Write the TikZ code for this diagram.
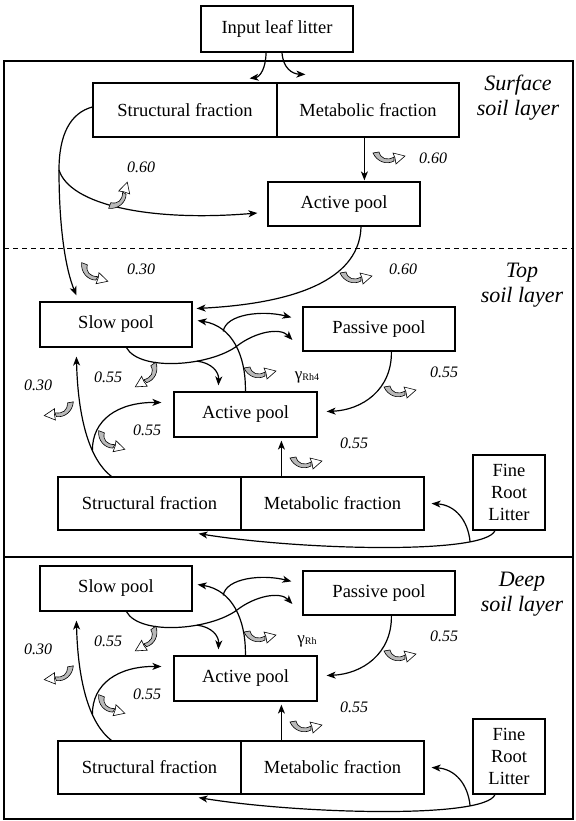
\documentclass[tikz,border=0pt]{standalone}
\usepackage{fontspec}
\setmainfont{Liberation Serif}
\usetikzlibrary{arrows.meta,calc}
\tikzset{
  box/.style={draw, line width=1.2pt, inner sep=0pt, align=center, font=\fontsize{18.5}{22}\selectfont},
  conn/.style={line width=1.2pt, -{Stealth[length=9pt,width=7pt,inset=2.5pt]}},
  num/.style={inner sep=0pt, font=\fontsize{16}{18}\selectfont\itshape},
  layerlabel/.style={inner sep=0pt, align=center, font=\fontsize{22}{25}\selectfont\itshape},
  resp/.pic={
    \filldraw[fill=gray!55, line width=0.6pt] (-16,-5) .. controls (-12,4) and (-2,7) .. (5,3)
      -- (5,-1) .. controls (-2,3) and (-8,1) .. (-10,-6) -- cycle;
    \filldraw[fill=white, line width=0.6pt] (7,6) -- (16,-2) -- (4,-5) -- (6,0) -- cycle;
  }
}
\newcommand{\soillayer}[3]{%
  \node[box, minimum width=152pt, minimum height=45pt] (#1S) at (116,{324.5+#2}) {Slow pool};
  \node[box, minimum width=152pt, minimum height=44pt] (#1P) at (379,{329+#2}) {Passive pool};
  \node[box, minimum width=143pt, minimum height=45pt] (#1A) at (245.5,{414.5+#2}) {Active pool};
  \node[box, minimum width=183pt, minimum height=53pt] (#1T) at (149.5,{503.5+#2}) {Structural fraction};
  \node[box, minimum width=183pt, minimum height=53pt] (#1M) at (332.5,{503.5+#2}) {Metabolic fraction};
  \node[box, minimum width=72pt, minimum height=75pt] (#1F) at (509,{492.5+#2}) {Fine\\Root\\Litter};
  % slow -> passive, with branch to active
  \draw[conn] ($(#1S.south west)+(87,0)$) .. controls (140,{372+#2}) and (210,{366+#2}) .. (237,{346+#2})
     coordinate[pos=0.65] (#1b1)
     .. controls (255,{332+#2}) and (280,{327+#2}) .. ($(#1P.west)+(-10,11)$);
  \draw[conn] (#1b1) .. controls (212,{363+#2}) and (219,{372+#2}) .. ($(#1A.north west)+(45,-6)$);
  % active -> slow, with branch to passive
  \draw[conn] ($(#1A.north west)+(72,0)$) .. controls (246,{355+#2}) and (232,{326+#2}) .. ($(#1S.east)+(5,-4)$)
     coordinate[pos=0.7] (#1b2);
  \draw[conn] (#1b2) .. controls (226,{314+#2}) and (262,{310+#2}) .. ($(#1P.north west)+(-11,11)$);
  % passive -> active
  \draw[conn] ($(#1P.south west)+(89,0)$) .. controls (392,{390+#2}) and (362,{410+#2}) .. ($(#1A.east)+(9,-3)$);
  % structural -> slow, with branch to active
  \draw[conn] ($(#1T.north west)+(54,0)$) .. controls (90,{460+#2}) and (78,{420+#2}) .. ($(#1S.south west)+(37,9)$)
     coordinate[pos=0.35] (#1b3);
  \draw[conn] (#1b3) .. controls (92,{420+#2}) and (118,{402+#2}) .. ($(#1A.west)+(-12,-12)$);
  % metabolic -> active
  \draw[conn] ($(#1M.north west)+(41,0)$) -- ($(#1A.south west)+(108,3)$);
  % fine root litter -> structural, with branch to metabolic
  \draw[conn] ($(#1F.south)+(-14,0)$) .. controls (485,{555+#2}) and (300,{550+#2}) .. ($(#1T.south east)+(-43,3)$)
     coordinate[pos=0.2] (#1b4);
  \draw[conn] (#1b4) .. controls (468,{520+#2}) and (455,{505+#2}) .. ($(#1M.east)+(7,0)$);
  % respiration icons
  \path (148,{377+#2}) pic[rotate=45,xscale=-1]{resp};
  \path (60,{412+#2}) pic[rotate=20,xscale=-1]{resp};
  \path (110,{443+#2}) pic[rotate=-30]{resp};
  \path (260,{373+#2}) pic{resp};
  \path (400,{392+#2}) pic{resp};
  \path (306,{463+#2}) pic{resp};
  % labels
  \node[num] (#1l1) at (108,{377+#2}) {0.55};
  \node[num] (#1l2) at (38,{385+#2}) {0.30};
  \node[num] (#1l3) at (147,{430+#2}) {0.55};
  \node[num] (#1l4) at (444,{372+#2}) {0.55};
  \node[num] (#1l5) at (354,{443+#2}) {0.55};
  \node[inner sep=0pt] (#1g) at (307,{377+#2}) {\fontsize{17}{17}\selectfont γ\raisebox{-1.5pt}{\fontsize{10}{10}\selectfont #3}};
}
\begin{document}
\begin{tikzpicture}[x=1pt,y=-1pt]
\useasboundingbox (0,0) rectangle (575,821);
% frame and layer separators
\draw[line width=1.2pt] (4,61) rectangle (573,819);
\draw[line width=1pt, dash pattern=on 5pt off 4pt] (4,248) -- (573,248);
\draw[line width=1.2pt] (4,557) -- (573,557);
% surface layer
\node[box, minimum width=152pt, minimum height=46pt] (in) at (277,29) {Input leaf litter};
\node[box, minimum width=184pt, minimum height=54pt] (sT) at (185,110) {Structural fraction};
\node[box, minimum width=182pt, minimum height=54pt] (sM) at (368,110) {Metabolic fraction};
\node[box, minimum width=152pt, minimum height=44pt] (sA) at (344,204) {Active pool};
\node[layerlabel] (surf) at (518,98) {Surface\\soil layer};
% top and deep layers
\soillayer{t}{0}{Rh4}
\soillayer{d}{264}{Rh}
\node[layerlabel] (toplab) at (522,285) {Top\\soil layer};
\node[layerlabel] (deeplab) at (522,594) {Deep\\soil layer};
% surface connectors
\draw[conn] ($(in.south)+(-11,0)$) .. controls (266,68) and (260,77) .. ($(sT.north east)+(-28,-4)$);
\draw[conn] ($(in.south)+(5,0)$) .. controls (283,68) and (292,74) .. ($(sM.north west)+(29,-8)$);
\draw[conn] ($(sM.south west)+(88,0)$) -- ($(sA.north west)+(97,-1)$);
\draw[conn] ($(sT.west)+(0,-3)$) .. controls (70,113) and (59,135) .. (59,170) coordinate (sb)
   .. controls (59,230) and (66,270) .. ($(tS.north west)+(37,-6)$);
\draw[conn] (sb) .. controls (70,205) and (150,222) .. ($(sA.west)+(-10,9)$);
\draw[conn] ($(sA.south)+(17,0)$) .. controls (360,268) and (320,302) .. ($(tS.east)+(4,-16)$);
% surface icons and labels
\path (389,158) pic{resp};
\path (121,197) pic[rotate=60]{resp};
\path (93,275) pic[rotate=-30]{resp};
\path (356,278) pic{resp};
\node[num] (s1) at (433,158) {0.60};
\node[num] (s2) at (141,167) {0.60};
\node[num] (s3) at (141,269) {0.30};
\node[num] (s4) at (403,269) {0.60};
\end{tikzpicture}
\end{document}
